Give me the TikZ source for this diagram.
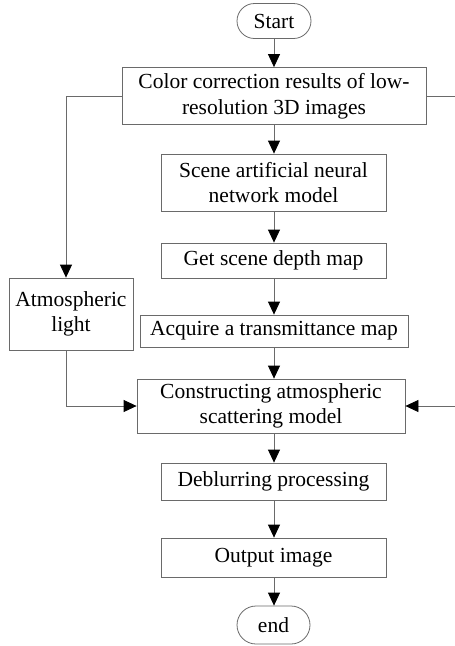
\documentclass[tikz,border=0pt]{standalone}
\usepackage{fontspec}
\setmainfont{Liberation Serif}
\usetikzlibrary{arrows.meta,shapes.misc}
\definecolor{linegray}{HTML}{6A6A6A}
\tikzset{
  every picture/.style={x=1pt,y=-1pt},
  procbox/.style={draw=linegray,line width=0.8pt,rectangle,inner sep=1pt,align=center,font=\fontsize{21.5}{25.5}\selectfont},
  termbox/.style={draw=linegray,line width=0.8pt,rounded rectangle,inner sep=1pt,align=center,font=\fontsize{21.5}{25.5}\selectfont},
  conn/.style={draw=linegray,line width=0.8pt},
  arr/.style={conn,-{Triangle[length=13pt,width=12pt,fill=black,color=black]}}
}
\begin{document}
\begin{tikzpicture}
\useasboundingbox (0,0) rectangle (455,646);
\node[termbox,minimum width=76pt,minimum height=35pt] (start) at (274,21) {Start};
\node[procbox,minimum width=304pt,minimum height=57pt] (box1) at (274,96) {Color correction results of low-\\resolution 3D images};
\node[procbox,minimum width=225pt,minimum height=57pt] (box2) at (273.5,182.5) {Scene artificial neural\\network model};
\node[procbox,minimum width=225pt,minimum height=35pt] (box3) at (273.5,260.5) {Get scene depth map};
\node[procbox,minimum width=124pt,minimum height=72pt] (atm) at (71,314) {Atmospheric\\light};
\node[procbox,minimum width=268pt,minimum height=32pt] (acq) at (274,331) {Acquire a transmittance map};
\node[procbox,minimum width=268pt,minimum height=54pt] (cons) at (271,406) {Constructing atmospheric\\scattering model};
\node[procbox,minimum width=225pt,minimum height=37pt] (debl) at (273.5,481.5) {Deblurring processing};
\node[procbox,minimum width=225pt,minimum height=39pt] (outp) at (273.5,557.5) {Output image};
\node[termbox,minimum width=75pt,minimum height=38pt] (finish) at (273.5,625) {end};
\coordinate (L1) at (66,96);
\coordinate (R1) at (455,96);
\coordinate (R2) at (455,406);
\coordinate (M) at (274,0);
\draw[arr] (M |- start.south) -- (M |- box1.north);
\draw[arr] (M |- box1.south) -- (M |- box2.north);
\draw[arr] (M |- box2.south) -- (M |- box3.north);
\draw[arr] (M |- box3.south) -- (M |- acq.north);
\draw[arr] (M |- acq.south) -- (M |- cons.north);
\draw[arr] (M |- cons.south) -- (M |- debl.north);
\draw[arr] (M |- debl.south) -- (M |- outp.north);
\draw[arr] (M |- outp.south) -- (M |- finish.north);
\draw[arr] (box1.west) -- (L1) -- (L1 |- atm.north);
\draw[arr] (L1 |- atm.south) -- (L1 |- cons.west) -- (cons.west);
\draw[conn] (box1.east) -- (R1);
\draw[arr] (R2) -- (cons.east);
\end{tikzpicture}
\end{document}
